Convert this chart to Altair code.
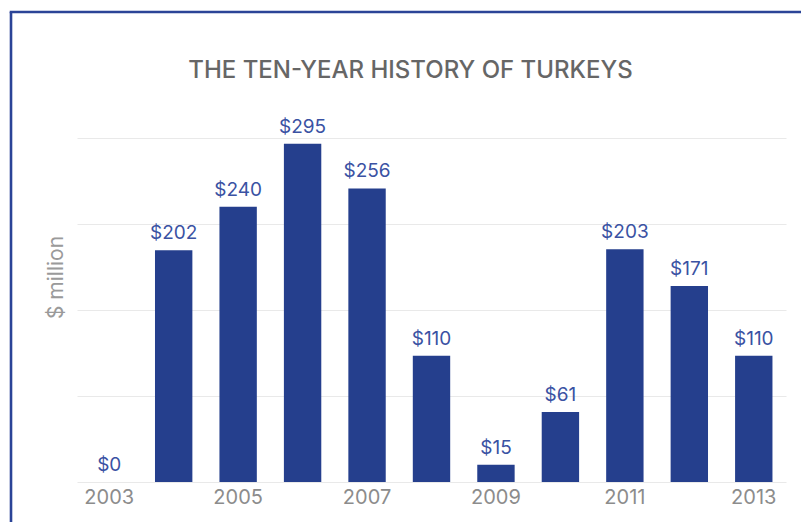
import altair as alt
import pandas as pd

years = [2003, 2004, 2005, 2006, 2007, 2008, 2009, 2010, 2011, 2012, 2013]
values = [0, 202, 240, 295, 256, 110, 15, 61, 203, 171, 110]
x_tick_years = [2003, 2005, 2007, 2009, 2011, 2013]
y_grid = [0, 75, 150, 225, 300]

df = pd.DataFrame({"year": years, "value": values})
frame_df = pd.DataFrame({"k": [0]})

FONT = "Inter"
BAR = "#253f8d"
LABEL = "#3a52a3"
GRAY = "#8c8c8c"

x_enc = alt.X(
    "year:O",
    scale=alt.Scale(paddingInner=0.42, paddingOuter=0.21),
    axis=alt.Axis(
        values=x_tick_years,
        title=None,
        labelAngle=0,
        labelColor=GRAY,
        labelFont=FONT,
        labelFontSize=20,
        labelPadding=5,
        ticks=False,
        domain=False,
        grid=False,
    ),
)
y_enc = alt.Y(
    "value:Q",
    scale=alt.Scale(domain=[0, 300], nice=False),
    axis=alt.Axis(
        values=y_grid,
        title="$ million",
        titleFont=FONT,
        titleFontSize=21,
        titleFontWeight="normal",
        titleColor="#9a9a9a",
        titleAngle=-90,
        titleX=-15,
        titleY=139,
        titleAlign="center",
        titleBaseline="alphabetic",
        labels=False,
        ticks=False,
        domain=False,
        grid=True,
        gridColor="#e9e9e9",
        gridWidth=1.2,
    ),
)

bars = alt.Chart(df).mark_bar(color=BAR).encode(x=x_enc, y=y_enc)

labels = alt.Chart(df).mark_text(
    color=LABEL, font=FONT, fontSize=19, baseline="alphabetic", dy=-11
).encode(
    x=alt.X("year:O"),
    y=alt.Y("value:Q"),
    text=alt.Text("value:Q", format="$.0f"),
)

border_left = alt.Chart(frame_df).mark_rule(color="#2b4497", strokeWidth=2.6).encode(
    x=alt.value(-66), y=alt.value(-126), y2=alt.value(400)
)
border_top = alt.Chart(frame_df).mark_rule(color="#2b4497", strokeWidth=2.6).encode(
    x=alt.value(-67.3), x2=alt.value(740), y=alt.value(-126)
)

chart = (
    alt.layer(bars, labels, border_left, border_top)
    .properties(
        width=709,
        height=344,
        background="white",
        autosize=alt.AutoSizeParams(type="none"),
        padding={"left": 77, "top": 138, "right": 15, "bottom": 40},
        title=alt.TitleParams(
            text="THE TEN-YEAR HISTORY OF TURKEYS",
            font=FONT,
            fontSize=24,
            fontWeight=500,
            color="#666666",
            anchor="middle",
            frame="group",
            dx=-21,
            offset=-91,
            baseline="alphabetic",
        ),
    )
    .configure_view(strokeWidth=0, stroke="transparent")
)

chart.save("out.html", embed_options={"renderer": "svg", "actions": False})
